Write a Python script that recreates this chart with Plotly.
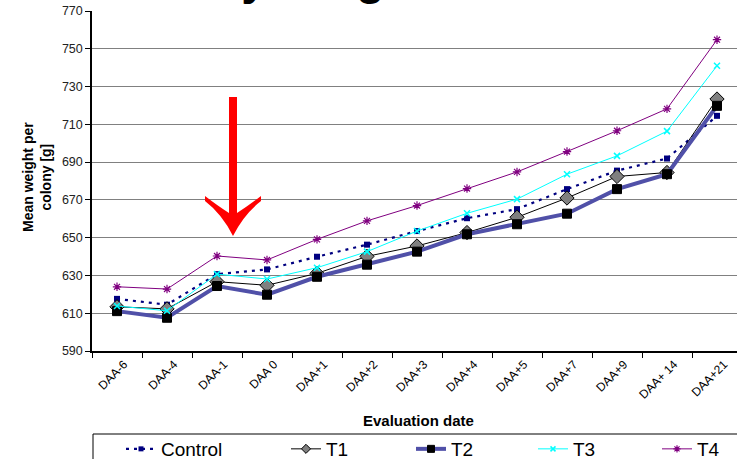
import plotly.graph_objects as go

# ---------------- data ----------------
categories = ["DAA-6", "DAA-4", "DAA-1", "DAA 0", "DAA+1", "DAA+2", "DAA+3",
              "DAA+4", "DAA+5", "DAA+7", "DAA+9", "DAA+ 14", "DAA+21"]
control = [617.6, 614.5, 630.7, 633.2, 639.9, 646.3, 653.5, 660.3, 665.1, 675.7, 685.5, 691.9, 714.5]
t1 = [613.4, 612.3, 626.7, 624.8, 631.1, 640.1, 645.6, 652.7, 660.8, 671.0, 682.4, 684.5, 723.4]
t2 = [611.1, 607.6, 624.4, 619.8, 629.3, 635.7, 642.6, 651.8, 657.1, 662.7, 675.7, 683.6, 719.8]
t3 = [613.8, 611.3, 630.7, 628.1, 634.1, 642.6, 653.5, 662.9, 670.4, 683.6, 693.3, 706.4, 741.0]
t4 = [624.0, 622.8, 640.3, 638.2, 649.1, 658.9, 667.0, 676.0, 684.8, 695.6, 706.6, 718.2, 754.8]
y_ticks = [590, 610, 630, 650, 670, 690, 710, 730, 750, 770]

# ---------------- layout geometry ----------------
FW, FH = 737, 459
L, T, B, R = 92, 11, 108, 0
W = FW - L - R
H = FH - T - B
CAT_W = 50.0


def px(xp):
    return (xp - L) / W


def py(yp):
    return (T + H - yp) / H


def cx(xp):
    return xp / FW


def cy(yp):
    return (FH - yp) / FH


FONT = "Arial, Liberation Sans, sans-serif"

styles = {
    "Control": dict(line=dict(color="#000080", width=2.2, dash="3px,5px"),
                    marker=dict(symbol="square", size=6, color="#000080")),
    "T1": dict(line=dict(color="#000000", width=1),
               marker=dict(symbol="diamond", size=11, color="#808080",
                           line=dict(color="#000000", width=1))),
    "T2": dict(line=dict(color="#5050A8", width=4),
               marker=dict(symbol="square", size=9, color="#000000",
                           line=dict(color="#000000", width=1))),
    "T3": dict(line=dict(color="#00FFFF", width=1),
               marker=dict(symbol="x-thin", size=6, color="#00FFFF",
                           line=dict(color="#00FFFF", width=1.5))),
    "T4": dict(line=dict(color="#800080", width=1),
               marker=dict(symbol="asterisk-open", size=7, color="#800080",
                           line=dict(color="#800080", width=1.2))),
}
legend_marker_size = {"Control": 5, "T1": 7, "T2": 7, "T3": 5, "T4": 6}
series = [("Control", control), ("T1", t1), ("T2", t2), ("T3", t3), ("T4", t4)]
legend_names = ["legend", "legend2", "legend3", "legend4", "legend5"]

fig = go.Figure()
for name, vals in series:
    st = styles[name]
    fig.add_trace(go.Scatter(x=categories, y=vals, name=name, mode="lines+markers",
                             line=st["line"], marker=st["marker"], showlegend=False))

# legend-only entries (smaller symbols, as in the reference legend)
for (name, _), lg in zip(series, legend_names):
    st = styles[name]
    mk = dict(st["marker"])
    mk["size"] = legend_marker_size[name]
    fig.add_trace(go.Scatter(x=[None], y=[None], name=name, mode="lines+markers",
                             line=st["line"], marker=mk, showlegend=True, legend=lg))

legend_common = dict(font=dict(family=FONT, size=19, color="#000000"),
                     bgcolor="rgba(0,0,0,0)", borderwidth=0,
                     xref="container", yref="container",
                     xanchor="left", yanchor="middle", orientation="h")
legend_y = cy(449)
legend_x = [121, 286, 411, 533, 657]

shapes = []
# legend frame (extends past window edge)
shapes.append(dict(type="rect", xref="paper", yref="paper",
                   x0=px(93), x1=px(780), y0=py(434), y1=py(500),
                   line=dict(color="#000000", width=1), fillcolor="rgba(0,0,0,0)",
                   layer="below"))

# red arrow (shaft + curved head), given in pixel space
shapes.append(dict(type="rect", xref="paper", yref="paper",
                   x0=px(229), x1=px(237), y0=py(97), y1=py(216),
                   line=dict(width=0), fillcolor="#FF0000"))
head_pts = [
    ("M", 229, 213),
    ("Q", 218, 206, 205, 196),
    ("L", 205, 201),
    ("Q", 222, 214, 233, 236),
    ("Q", 244, 214, 261, 201),
    ("L", 261, 196),
    ("Q", 248, 206, 237, 213),
]
path = ""
for p in head_pts:
    cmd = p[0]
    coords = p[1:]
    parts = []
    for i in range(0, len(coords), 2):
        parts.append(f"{px(coords[i]):.5f},{py(coords[i+1]):.5f}")
    path += cmd + " ".join(parts) + " "
path += "Z"
shapes.append(dict(type="path", xref="paper", yref="paper", path=path,
                   line=dict(width=0), fillcolor="#FF0000"))

annotations = [
    dict(text="Colony weight", xref="paper", yref="paper",
         x=px(106), y=py(6), xanchor="left", yanchor="bottom", showarrow=False,
         font=dict(family=FONT, size=47, color="#000000", weight="bold")),
    dict(text="Mean weight per<br>colony [g]", xref="paper", yref="paper",
         x=px(37), y=py(177), xanchor="center", yanchor="middle", showarrow=False,
         textangle=-90,
         font=dict(family=FONT, size=14, color="#000000", weight="bold")),
    dict(text="Evaluation date", xref="paper", yref="paper",
         x=px(418), y=py(420), xanchor="center", yanchor="middle", showarrow=False,
         font=dict(family=FONT, size=15, color="#000000", weight="bold")),
]

layout_legends = {lg: dict(x=cx(xv), y=legend_y, **legend_common)
                  for lg, xv in zip(legend_names, legend_x)}

fig.update_layout(
    width=FW, height=FH,
    margin=dict(l=L, r=R, t=T, b=B, pad=0, autoexpand=False),
    paper_bgcolor="#FFFFFF", plot_bgcolor="#FFFFFF",
    font=dict(family=FONT, color="#000000"),
    showlegend=True,
    shapes=shapes,
    annotations=annotations,
    xaxis=dict(
        type="category", categoryorder="array", categoryarray=categories,
        range=[-0.5, -0.5 + W / CAT_W],
        showgrid=False, zeroline=False,
        showline=True, linecolor="#000000", linewidth=1.5,
        ticks="outside", ticklen=5, tickcolor="#000000", tickwidth=1,
        tickson="boundaries", tickangle=-45, ticklabelshift=7,
        tickfont=dict(family=FONT, size=12, color="#000000"),
        automargin=False,
    ),
    yaxis=dict(
        range=[590, 770], tickvals=y_ticks,
        showgrid=True, gridcolor="#808080", gridwidth=1,
        zeroline=False,
        showline=True, linecolor="#000000", linewidth=1.5,
        ticks="outside", ticklen=5, tickcolor="#000000", tickwidth=1,
        tickfont=dict(family=FONT, size=12.5, color="#222222"),
        automargin=False,
    ),
    **layout_legends,
)

fig.write_html("out.html")
